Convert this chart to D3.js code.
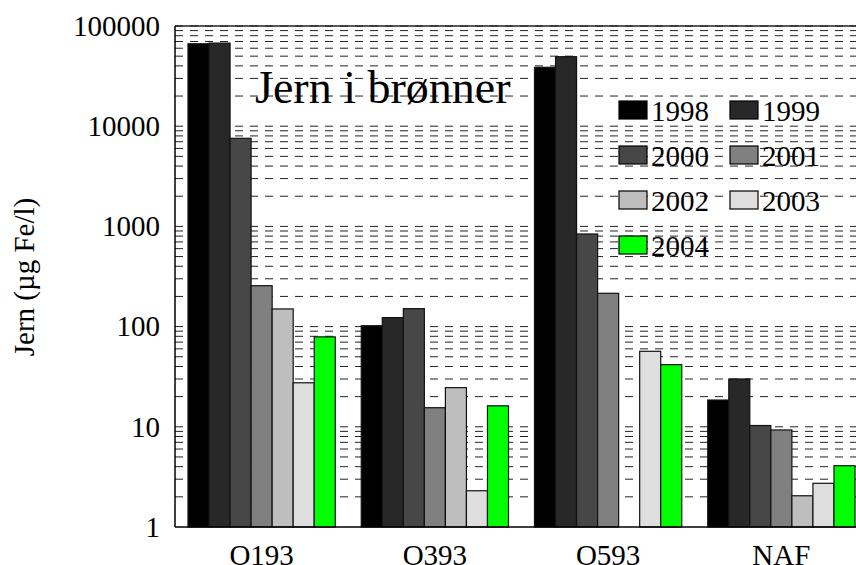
<!DOCTYPE html>
<html>
<head>
<meta charset="utf-8">
<script src="https://cdn.jsdelivr.net/npm/d3@7"></script>
<style>
  body { margin: 0; background: #fff; }
  svg { display: block; font-family: "Liberation Serif", "Times New Roman", serif; }
</style>
</head>
<body>
<script>
"use strict";

// data (O593 2002 has no bar)
var sites = ["O193", "O393", "O593", "NAF"];
var years = ["1998", "1999", "2000", "2001", "2002", "2003", "2004"];
var v1998 = [66500, 102, 38700, 18.5];
var v1999 = [67500, 123, 49400, 30];
var v2000 = [7570, 151, 840, 10.3];
var v2001 = [256, 15.5, 215, 9.3];
var v2002 = [150, 24.6, null, 2.05];
var v2003 = [27.5, 2.3, 56.7, 2.73];
var v2004 = [79, 16.2, 41.7, 4.09];
var yTicks = [1, 10, 100, 1000, 10000, 100000];

var series = [v1998, v1999, v2000, v2001, v2002, v2003, v2004];
var colors = ["#000000", "#282828", "#474747", "#808080", "#bebebe", "#dedede", "#00ff00"];

var width = 856, height = 565;
var pLeft = 175, pRight = 868, pTop = 26, pBottom = 527;

var svg = d3.select("body").append("svg")
    .attr("width", width)
    .attr("height", height);

var x = d3.scaleBand()
    .domain(sites)
    .range([pLeft, pRight])
    .paddingInner(0.15)
    .paddingOuter(0.075);

var xYear = d3.scaleBand()
    .domain(years)
    .range([0, x.bandwidth()]);

var y = d3.scaleLog()
    .domain([1, 100000])
    .range([pBottom, pTop]);

var color = d3.scaleOrdinal().domain(years).range(colors);

// dashed grid at every 2..10 of each decade
var gridVals = [];
yTicks.slice(0, -1).forEach(function(d){
  for (var k = 2; k <= 10; k++) gridVals.push(k * d);
});

svg.append("g")
    .selectAll("line")
    .data(gridVals)
    .enter().append("line")
      .attr("x1", pLeft)
      .attr("x2", pRight)
      .attr("y1", function(d){ return y(d); })
      .attr("y2", function(d){ return y(d); })
      .style("stroke", "#222")
      .style("stroke-width", 1)
      .style("stroke-dasharray", "8,7");

// title
svg.append("text")
    .attr("x", 255)
    .attr("y", 103)
    .style("font-size", "46px")
    .text("Jern i br\u00f8nner");

// legend (no background, grid shows through)
var legend = svg.append("g")
    .selectAll("g")
    .data(years)
    .enter().append("g")
      .attr("transform", function(d, i){
        return "translate(" + (619 + (i % 2) * 111) + "," + (101 + Math.floor(i / 2) * 45) + ")";
      });

legend.append("rect")
    .attr("width", 28)
    .attr("height", 18)
    .attr("fill", function(d){ return color(d); })
    .style("stroke", "#000")
    .style("stroke-width", 1.2);

legend.append("text")
    .attr("x", 32)
    .attr("y", 20)
    .style("font-size", "29px")
    .text(function(d){ return d; });

// bars
var groups = svg.append("g")
    .selectAll("g")
    .data(sites)
    .enter().append("g")
      .attr("transform", function(d){ return "translate(" + x(d) + ",0)"; });

groups.selectAll("rect")
    .data(function(d, i){
      return years.map(function(yr, j){ return {year: yr, value: series[j][i]}; });
    })
    .enter().append("rect")
      .filter(function(d){ return d.value != null; })
      .attr("x", function(d){ return xYear(d.year); })
      .attr("width", xYear.bandwidth())
      .attr("y", function(d){ return y(d.value); })
      .attr("height", function(d){ return pBottom - y(d.value); })
      .attr("fill", function(d){ return color(d.year); })
      .style("stroke", "#111")
      .style("stroke-width", 1.2);

// frame: top, left, bottom
svg.append("line")
    .attr("x1", pLeft).attr("x2", pRight)
    .attr("y1", pTop).attr("y2", pTop)
    .style("stroke", "#222").style("stroke-width", 1.5);
svg.append("line")
    .attr("x1", pLeft).attr("x2", pRight)
    .attr("y1", pBottom).attr("y2", pBottom)
    .style("stroke", "#000").style("stroke-width", 1.5);
svg.append("line")
    .attr("x1", pLeft).attr("x2", pLeft)
    .attr("y1", pTop).attr("y2", pBottom)
    .style("stroke", "#000").style("stroke-width", 1.5);

// y tick labels
svg.append("g")
    .selectAll("text")
    .data(yTicks)
    .enter().append("text")
      .attr("x", 160)
      .attr("y", function(d){ return y(d); })
      .attr("dy", "0.34em")
      .attr("text-anchor", "end")
      .style("font-size", "29px")
      .text(function(d){ return d; });

// x labels
svg.append("g")
    .selectAll("text")
    .data(sites)
    .enter().append("text")
      .attr("x", function(d){ return x(d) + x.bandwidth() / 2; })
      .attr("y", 564.5)
      .attr("text-anchor", "middle")
      .style("font-size", "29px")
      .text(function(d){ return d; });

// y axis title
svg.append("text")
    .attr("transform", "translate(34,277) rotate(-90)")
    .attr("text-anchor", "middle")
    .style("font-size", "29px")
    .text("Jern (\u00b5g Fe/l)");
</script>
</body>
</html>
